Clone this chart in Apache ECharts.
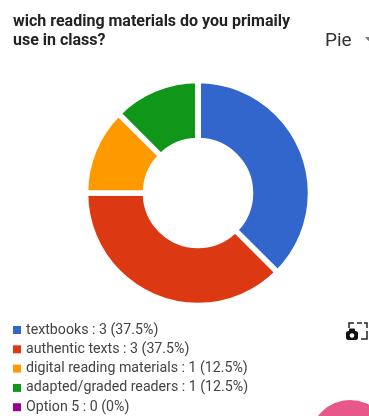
<!DOCTYPE html>
<html>
<head>
<meta charset="utf-8">
<style>
html,body{margin:0;padding:0;background:#fff;overflow:hidden}
#chart{width:369px;height:416px}
</style>
<script src="https://cdn.jsdelivr.net/npm/echarts@6/dist/echarts.min.js"></script>
</head>
<body>
<div id="chart"></div>
<script>
// Survey responses shown as a donut, with the answer counts listed below it.
const categories = ['textbooks', 'authentic texts', 'digital reading materials', 'adapted/graded readers', 'Option 5'];
const responses = [3, 3, 1, 1, 0];
const shares = ['37.5%', '37.5%', '12.5%', '12.5%', '0%'];
const sliceColors = ['#3366cc', '#dc3912', '#ff9900', '#109618', '#990099'];
const question = 'wich reading materials do you primaily\nuse in class?';
const chartType = 'Pie';

const chart = echarts.init(document.getElementById('chart'));
const lookup = Object.fromEntries(categories.map((c, i) => [c, i]));
const frameStyle = { stroke: '#222', lineWidth: 1.5, fill: null };

chart.setOption({
  animation: false,
  color: sliceColors,
  title: {
    text: question,
    left: 13,
    top: 13,
    padding: 0,
    textStyle: { fontFamily: 'Roboto', fontSize: 16, fontWeight: 'bold', color: '#222', lineHeight: 18.5 }
  },
  legend: {
    orient: 'vertical',
    left: 13,
    top: 323,
    padding: 0,
    itemWidth: 8,
    itemHeight: 8,
    itemGap: 5.3,
    icon: 'rect',
    selectedMode: false,
    data: categories,
    itemStyle: { borderWidth: 0 },
    formatter: name => `${name} : ${responses[lookup[name]]} (${shares[lookup[name]]})`,
    textStyle: { fontFamily: 'Roboto', fontSize: 14.2, color: '#444', lineHeight: 14 }
  },
  series: [{
    type: 'pie',
    center: [198, 193],
    radius: [52.5, 112.5],
    startAngle: 90,
    clockwise: true,
    label: { show: false },
    labelLine: { show: false },
    silent: true,
    itemStyle: { borderColor: '#fff', borderWidth: 5.5 },
    data: categories.map((name, i) => ({ name, value: responses[i] }))
  }],
  graphic: [
    { type: 'text', left: 325, top: 32, style: { text: chartType, fontFamily: 'Roboto', fontSize: 19, fill: '#333' } },
    { type: 'polygon', shape: { points: [[365, 37], [372, 37], [368.5, 41]] }, style: { fill: '#777' } },
    { type: 'circle', shape: { cx: 350, cy: 440, r: 40 }, style: { fill: '#e8578a' } },
    // Screenshot button: dashed frame around a small camera
    { type: 'polyline', shape: { points: [[349, 328], [349, 323], [354, 323]] }, style: frameStyle },
    { type: 'polyline', shape: { points: [[357, 323], [362, 323]] }, style: frameStyle },
    { type: 'polyline', shape: { points: [[364, 323], [367, 323], [367, 328]] }, style: frameStyle },
    { type: 'polyline', shape: { points: [[367, 331], [367, 339], [361, 339]] }, style: frameStyle },
    { type: 'rect', shape: { x: 346, y: 331, width: 12, height: 9, r: 2.5 }, style: { fill: '#111' } },
    { type: 'rect', shape: { x: 349, y: 328.5, width: 6, height: 4, r: 1 }, style: { fill: '#111' } },
    { type: 'circle', shape: { cx: 352, cy: 335.5, r: 2.3 }, style: { fill: '#fff' } }
  ]
});
</script>
</body>
</html>
